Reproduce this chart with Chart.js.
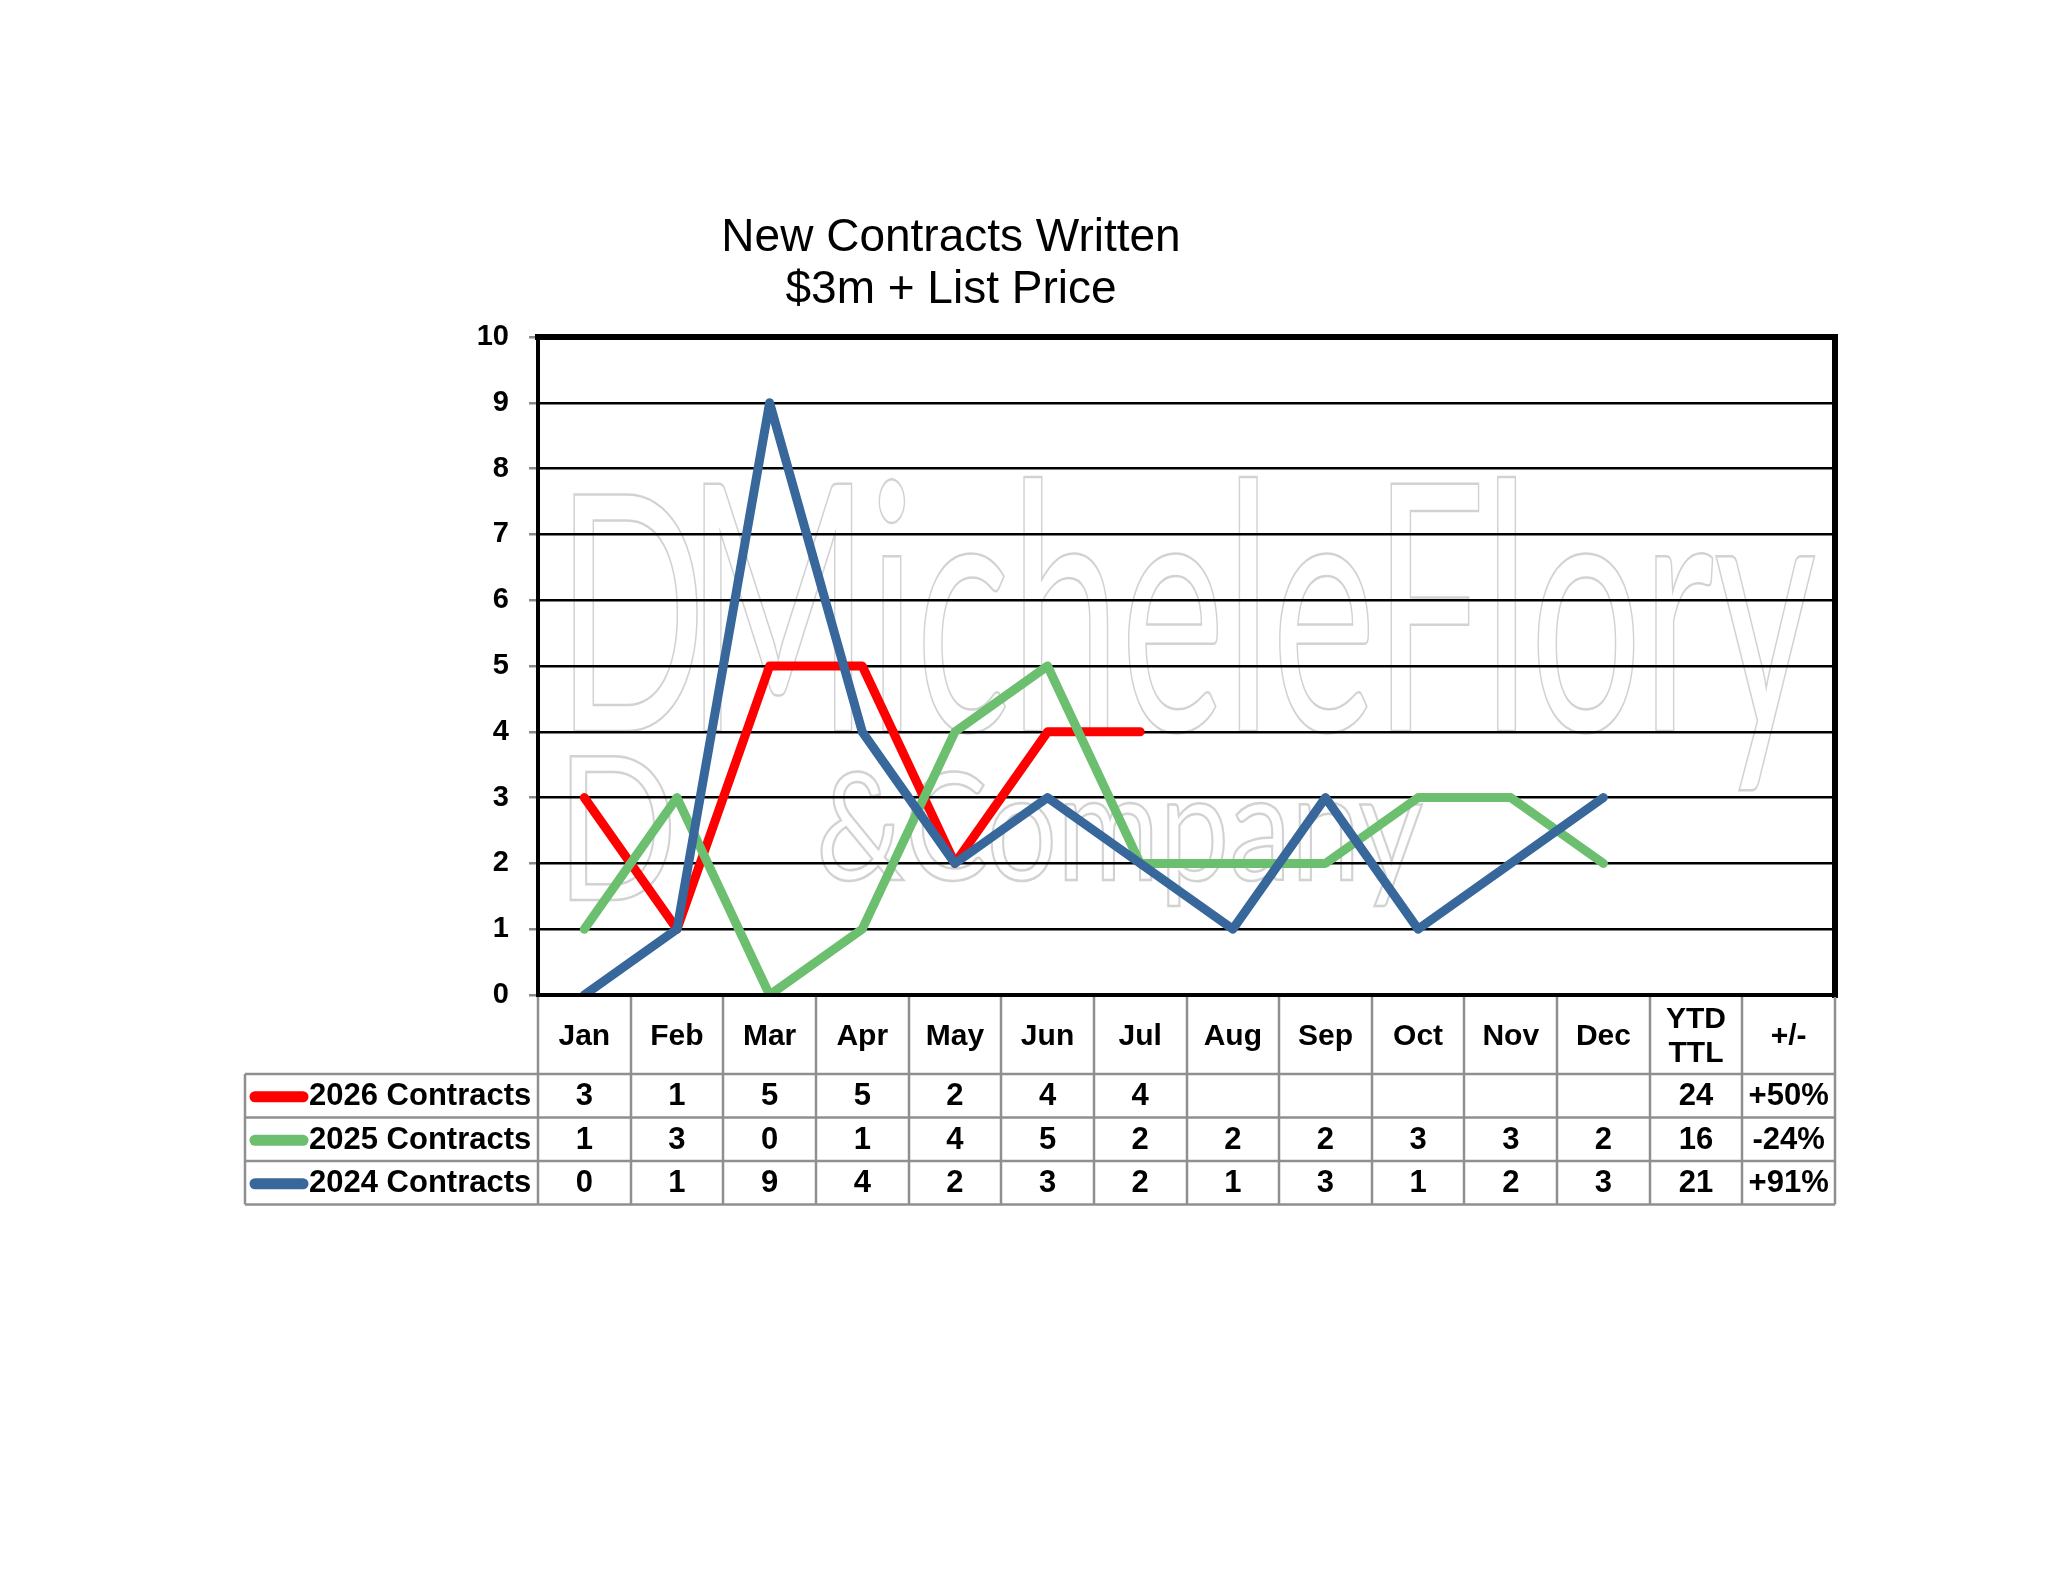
<!DOCTYPE html>
<html>
<head>
<meta charset="utf-8">
<title>New Contracts Written</title>
<script src="https://cdn.jsdelivr.net/npm/chart.js@4.4.1/dist/chart.umd.min.js"></script>
<style>
  html, body { margin:0; padding:0; background:#ffffff; }
  #wrap { position:relative; width:2048px; height:1583px; }
</style>
</head>
<body>
<div id="wrap"><canvas id="contractsChart"></canvas></div>
<script>
// ---------------------------
// Chart data
// ---------------------------

var months = ["Jan","Feb","Mar","Apr","May","Jun","Jul","Aug","Sep","Oct","Nov","Dec"];
var extraCols = [["YTD","TTL"], ["+/-"]];

var seriesNames = ["2026 Contracts", "2025 Contracts", "2024 Contracts"];
var contracts2026 = [3,1,5,5,2,4,4];
var contracts2025 = [1,3,0,1,4,5,2,2,2,3,3,2];
var contracts2024 = [0,1,9,4,2,3,2,1,3,1,2,3];
var ytdTotals = ["24","16","21"];
var changePct = ["+50%","-24%","+91%"];

var yTicks = [0,1,2,3,4,5,6,7,8,9,10];

var titleLines = ["New Contracts Written", "$3m + List Price"];

var colors = ["#ff0000", "#6cbf6f", "#37679b"];

// category labels: 12 months + two summary columns
var allLabels = months.concat(["YTD TTL", "+/-"]);
var tableRows = [contracts2026, contracts2025, contracts2024];

var FONT = "'Liberation Sans', Arial, sans-serif";

// ---------------------------
// Watermark + title + data table (drawn round the chart area)
// ---------------------------

var decorPlugin = {
    id: "decor",

    beforeDraw: function(chart){
        var ctx = chart.ctx;
        ctx.save();
        ctx.strokeStyle = "#d2d2d2";
        ctx.lineWidth = 2.5;
        ctx.textBaseline = "alphabetic";
        ctx.textAlign = "left";

        // big outlined "MicheleFlory"
        ctx.font = "400 345px Lato, " + FONT;
        var w = ctx.measureText("MicheleFlory").width;
        ctx.save();
        ctx.translate(686, 731);
        ctx.scale(1130 / w, 1);
        ctx.strokeText("MicheleFlory", 0, 0);
        ctx.restore();

        // "&Company"
        ctx.font = "400 150px Lato, " + FONT;
        var w2 = ctx.measureText("&Company").width;
        ctx.save();
        ctx.translate(816, 880);
        ctx.scale(607 / w2, 1);
        ctx.strokeText("&Company", 0, 0);
        ctx.restore();

        // logo "D" shapes on the left
        ctx.font = "400 330px Lato, " + FONT;
        ctx.save();
        ctx.translate(556, 731);
        ctx.scale(0.6, 1);
        ctx.strokeText("D", 0, 0);
        ctx.restore();
        ctx.font = "400 200px Lato, " + FONT;
        ctx.save();
        ctx.translate(556, 900);
        ctx.scale(0.8, 1);
        ctx.strokeText("D", 0, 0);
        ctx.restore();
        ctx.restore();
    },

    afterDraw: function(chart){
        var ctx = chart.ctx;
        var a = chart.chartArea;
        var colW = (a.right - a.left) / allLabels.length;
        var tableLeft = 245;
        var headerBottom = 1074;
        var rowH = 43.5;
        var tableBottom = headerBottom + rowH * 3;

        ctx.save();

        // title
        ctx.fillStyle = "#000";
        ctx.textAlign = "center";
        ctx.textBaseline = "middle";
        ctx.font = "46px " + FONT;
        ctx.fillText(titleLines[0], 951, 238);
        ctx.fillText(titleLines[1], 951, 290);

        // plot frame
        ctx.strokeStyle = "#000";
        ctx.lineCap = "square";
        ctx.lineWidth = 4;
        ctx.beginPath();
        ctx.moveTo(a.left, a.top); ctx.lineTo(a.left, a.bottom); ctx.lineTo(a.right, a.bottom);
        ctx.stroke();
        ctx.lineWidth = 6;
        ctx.beginPath();
        ctx.moveTo(a.left, a.top); ctx.lineTo(a.right, a.top); ctx.lineTo(a.right, a.bottom);
        ctx.stroke();

        // table grid
        ctx.strokeStyle = "#8f8f8f";
        ctx.lineWidth = 2.5;
        ctx.lineCap = "butt";
        ctx.beginPath();
        for(var k=0; k<=allLabels.length; k++){
            var x = Math.round(a.left + k * colW);
            ctx.moveTo(x, a.bottom + 2);
            ctx.lineTo(x, tableBottom);
        }
        ctx.moveTo(tableLeft, headerBottom);
        ctx.lineTo(tableLeft, tableBottom);
        for(var r=0; r<=3; r++){
            var y = headerBottom + r * rowH;
            ctx.moveTo(tableLeft, y);
            ctx.lineTo(a.right, y);
        }
        ctx.stroke();

        // header labels
        ctx.fillStyle = "#000";
        ctx.font = "bold 30px " + FONT;
        var headerMid = (a.bottom + headerBottom) / 2 + 2;
        for(var i=0; i<months.length; i++){
            ctx.fillText(months[i], a.left + (i + 0.5) * colW, headerMid);
        }
        var xYtd = a.left + (months.length + 0.5) * colW;
        ctx.fillText(extraCols[0][0], xYtd, headerMid - 17);
        ctx.fillText(extraCols[0][1], xYtd, headerMid + 17);
        ctx.fillText(extraCols[1][0], a.left + (months.length + 1.5) * colW, headerMid);

        // data rows
        ctx.font = "bold 31px " + FONT;
        for(var r=0; r<tableRows.length; r++){
            var yc = headerBottom + (r + 0.5) * rowH + 1;

            // legend key
            ctx.strokeStyle = colors[r];
            ctx.lineWidth = 11;
            ctx.lineCap = "round";
            ctx.beginPath();
            ctx.moveTo(255, yc);
            ctx.lineTo(303, yc);
            ctx.stroke();

            ctx.textAlign = "left";
            ctx.fillText(seriesNames[r], 309, yc);

            ctx.textAlign = "center";
            var vals = tableRows[r];
            for(var c=0; c<vals.length; c++){
                ctx.fillText(String(vals[c]), a.left + (c + 0.5) * colW, yc);
            }
            ctx.fillText(ytdTotals[r], xYtd, yc);
            ctx.fillText(changePct[r], a.left + (months.length + 1.5) * colW, yc);
        }

        ctx.restore();
    }
};

// ---------------------------
// Line chart
// ---------------------------

new Chart(document.getElementById("contractsChart"), {

    type: "line",

    data: {
        labels: allLabels,

        // 2024 listed first so it is drawn on top, as in the reference
        datasets: [
            { label: seriesNames[2], data: contracts2024, borderColor: colors[2] },
            { label: seriesNames[1], data: contracts2025, borderColor: colors[1] },
            { label: seriesNames[0], data: contracts2026, borderColor: colors[0] }
        ]
    },

    options: {
        responsive: true,
        maintainAspectRatio: false,
        animation: false,

        datasets: {
            line: {
                borderWidth: 9,
                tension: 0,
                pointRadius: 0,
                borderCapStyle: "round",
                borderJoinStyle: "round",
                fill: false
            }
        },

        layout: {
            padding: { left: 0, top: 337, right: 213, bottom: 588 }
        },

        scales: {
            x: {
                type: "category",
                display: false,
                offset: true
            },
            y: {
                min: 0,
                max: 10,
                afterFit: function(scale){ scale.width = 538; },
                afterBuildTicks: function(scale){
                    scale.ticks = yTicks.map(function(v){ return { value: v }; });
                },
                border: { display: false },
                grid: {
                    color: "#000",
                    lineWidth: 2.5,
                    tickColor: "#8a8a8a",
                    tickLength: 9
                },
                ticks: {
                    color: "#000",
                    padding: 20,
                    font: { family: FONT, weight: "bold", size: 29 }
                }
            }
        },

        plugins: {
            legend: { display: false },
            tooltip: { enabled: false },
            title: { display: false }
        }
    },

    plugins: [decorPlugin]

});
</script>
</body>
</html>
